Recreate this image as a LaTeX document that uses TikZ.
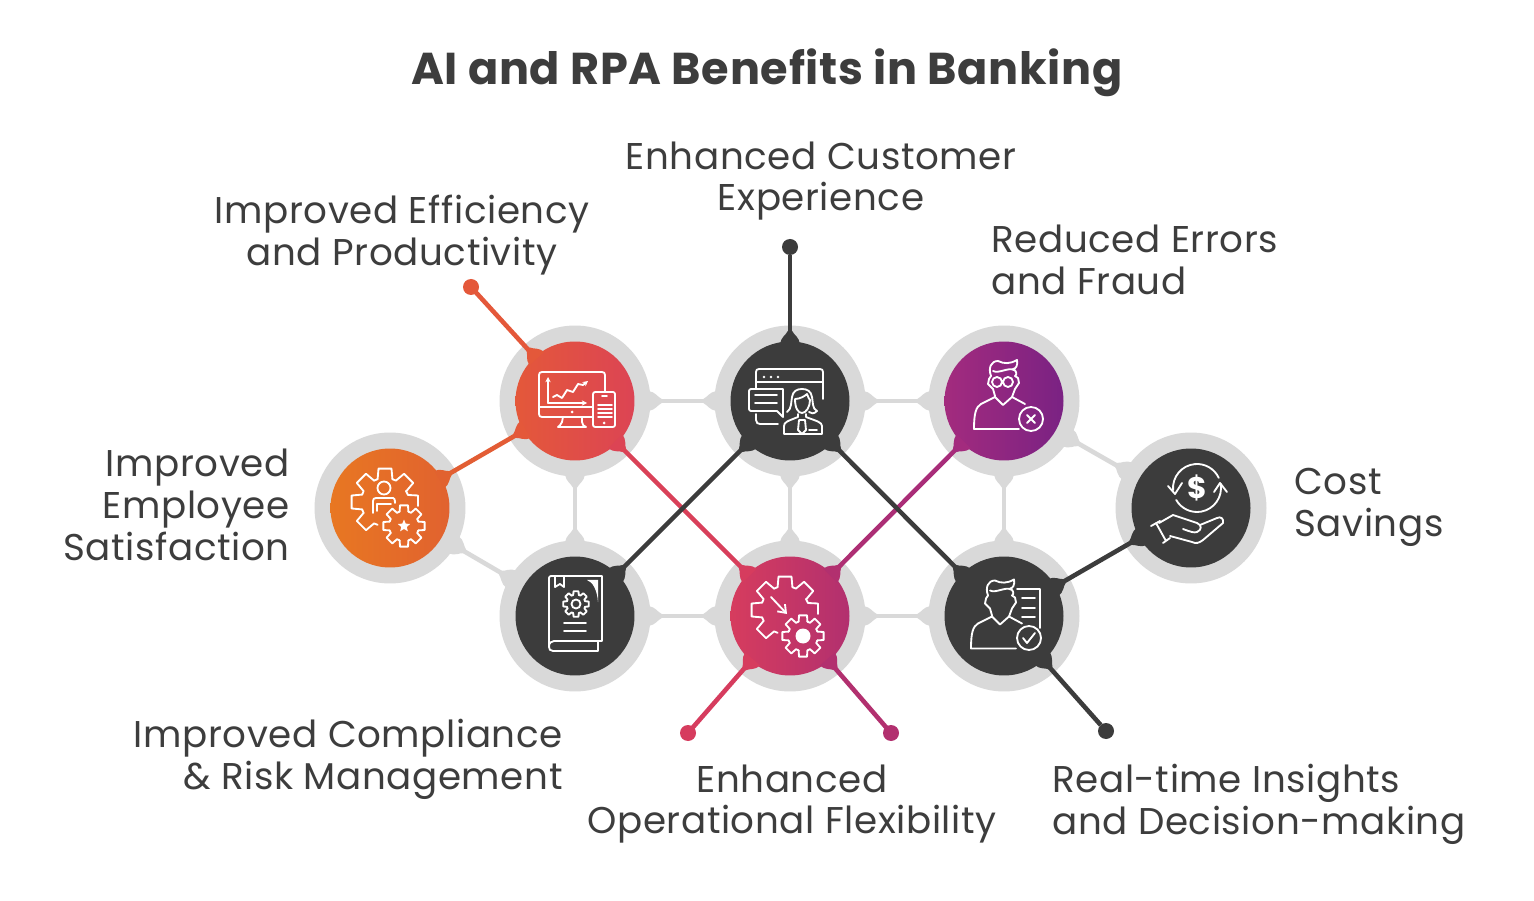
\documentclass[tikz,border=0pt]{standalone}
\usepackage{fontspec}
\setmainfont[LetterSpace=1.6]{Poppins}
\usetikzlibrary{calc, positioning, shapes.geometric, arrows.meta}

\definecolor{ringgrey}{HTML}{D9D9D9}
\definecolor{darkdisc}{HTML}{3C3C3C}
\definecolor{labeltext}{HTML}{3D3D3D}
\definecolor{orangeleft}{HTML}{E87722}
\definecolor{orangeright}{HTML}{E1622F}
\definecolor{redleft}{HTML}{E4583A}
\definecolor{redright}{HTML}{DC4454}
\definecolor{pinkleft}{HTML}{D63C5E}
\definecolor{pinkright}{HTML}{B2306F}
\definecolor{purpleleft}{HTML}{A32B7E}
\definecolor{purpleright}{HTML}{7A2283}

\tikzset{
    ring/.style={circle, fill=ringgrey, minimum size=3.02cm, inner sep=0pt, outer sep=0pt},
    disc/.style={circle, minimum size=2.38cm, inner sep=0pt, outer sep=0pt},
    enddot/.style={circle, minimum size=0.32cm, inner sep=0pt, outer sep=0pt},
    greylink/.style={draw=ringgrey, line width=2.6pt},
    darklink/.style={draw=darkdisc, line width=2.6pt},
    icon/.style={draw=white, line width=1.05pt, line join=round, line cap=round},
    blurb/.style={text=labeltext, inner sep=0pt, font=\fontsize{21.2}{23.8}\selectfont},
}

% coloured connector, left end first
\newcommand{\shadelink}[4]{
    \shade[left color=#3, right color=#4] ($(#1)!1.3pt!90:(#2)$) -- ($(#1)!1.3pt!-90:(#2)$) -- ($(#2)!1.3pt!90:(#1)$) -- ($(#2)!1.3pt!-90:(#1)$) -- cycle;
}
\newcommand{\flare}[4]{
    \fill[#4, shift={(#1)}, rotate=#2] ({#3-2},10) .. controls ({#3+5},9) and ({#3+7},4) .. ({#3+11},2.2) -- ({#3+11},-2.2) .. controls ({#3+7},-4) and ({#3+5},-9) .. ({#3-2},-10) -- cycle;
}
\newcommand{\gearicon}[6]{
    \foreach \a in {#6}
        \draw[icon, shift={#1}] ({\a-45+#5}:#3) -- ({\a-#5}:#3) -- ({\a-#4}:#2) -- ({\a+#4}:#2) -- ({\a+#5}:#3);
}
\newcommand{\bigopengear}{
    \gearicon{(-5,-6)}{34}{24}{11}{18}{135,180,225,270,315}
    \draw[icon] (16,-17) -- (18,-13) -- (28,-12.5) -- (28,-2);
}
\newcommand{\manicon}{
    \draw[icon] (-9,-5) -- (-11,-12) -- (-16,-17) -- (-15,-22) -- (-13,-25) .. controls (-16,-33) and (-13,-40) .. (-6,-40) .. controls (0,-37) and (6,-37) .. (13,-41) .. controls (14,-36) and (12,-32) .. (9,-32) .. controls (13,-30) and (13,-26) .. (11,-25) -- (14,-23) -- (15,-18) -- (11,-12) -- (8,-4) -- (-1,4) -- (-9,-4) -- (-23,3) .. controls (-28,6) and (-30,12) .. (-30,28) -- (15,28);
    \draw[icon] (-11,-30) .. controls (-5,-27) and (4,-34) .. (10,-31);
    \draw[icon] (8,-4) -- (21,3);
}

\begin{document}
\begin{tikzpicture}[x=0.02cm, y=-0.02cm]
    \useasboundingbox (0,0) rectangle (1534,901);
    \fill[white] (0,0) rectangle (1534,901);

    \node[text=labeltext, font=\fontsize{25.4}{30}\selectfont\bfseries] (title) at (767,73) {AI and RPA Benefits in Banking};

    \node[blurb, align=center] (customertext) at (821,181) {Enhanced Customer\\Experience};
    \node[blurb, align=center] (efficiencytext) at (402,235) {Improved Efficiency\\and Productivity};
    \node[blurb, align=left, anchor=west] (errorstext) at (991,260) {Reduced Errors\\and Fraud};
    \node[blurb, align=right, anchor=east] (employeetext) at (290,505) {Improved\\Employee\\Satisfaction};
    \node[blurb, align=left, anchor=west] (savingstext) at (1294,507) {Cost\\Savings};
    \node[blurb, align=right, anchor=east] (compliancetext) at (563,759) {Improved Compliance\\\& Risk Management};
    \node[blurb, align=center] (flexibilitytext) at (792,804) {Enhanced\\Operational Flexibility};
    \node[blurb, align=left, anchor=west] (insightstext) at (1052,804) {Real-time Insights\\and Decision-making};

    \node[ring] (efficiency) at (575,401) {};
    \node[ring] (customer) at (790,401) {};
    \node[ring] (errors) at (1004,401) {};
    \node[ring] (employee) at (390,508) {};
    \node[ring] (savings) at (1191,508) {};
    \node[ring] (compliance) at (575,616) {};
    \node[ring] (flexibility) at (790,616) {};
    \node[ring] (insights) at (1004,616) {};

    \draw[greylink] (efficiency) -- (customer);
    \draw[greylink] (customer) -- (errors);
    \draw[greylink] (compliance) -- (flexibility);
    \draw[greylink] (flexibility) -- (insights);
    \draw[greylink] (efficiency) -- (compliance);
    \draw[greylink] (customer) -- (flexibility);
    \draw[greylink] (errors) -- (insights);
    \draw[greylink] (employee) -- (compliance);
    \draw[greylink] (errors) -- (savings);

    \foreach \n/\a in {efficiency/0, efficiency/-90, customer/180, customer/0, customer/-90, errors/180, errors/-90, errors/-30, employee/-30, savings/150, compliance/90, compliance/0, compliance/150, flexibility/180, flexibility/0, flexibility/90, insights/180, insights/90}
        \flare{\n.center}{\a}{75.5}{ringgrey};

    \node[enddot, fill=redleft] (efficiencydot) at (471,287) {};
    \node[enddot, fill=darkdisc] (customerdot) at (790,247) {};
    \node[enddot, fill=pinkleft] (flexdotleft) at (688,733) {};
    \node[enddot, fill=pinkright] (flexdotright) at (891,733) {};
    \node[enddot, fill=darkdisc] (insightsdot) at (1106,731) {};

    \shadelink{efficiencydot.center}{efficiency.center}{redleft}{redleft}
    \shadelink{employee.center}{efficiency.center}{orangeright}{redleft}
    \shadelink{efficiency.center}{flexibility.center}{redright}{pinkleft}
    \shadelink{flexibility.center}{errors.center}{pinkright}{purpleleft}
    \shadelink{flexdotleft.center}{flexibility.center}{pinkleft}{pinkleft}
    \shadelink{flexibility.center}{flexdotright.center}{pinkright}{pinkright}
    \draw[darklink] (customerdot) -- (customer.center);
    \draw[darklink] (compliance.center) -- (customer.center);
    \draw[darklink] (customer.center) -- (insights.center);
    \draw[darklink] (insights.center) -- (savings.center);
    \draw[darklink] (insights.center) -- (insightsdot);

    \node[disc, left color=redleft, right color=redright] (efficiencydisc) at (efficiency.center) {};
    \node[disc, fill=darkdisc] (customerdisc) at (customer.center) {};
    \node[disc, left color=purpleleft, right color=purpleright] (errorsdisc) at (errors.center) {};
    \node[disc, left color=orangeleft, right color=orangeright] (employeedisc) at (employee.center) {};
    \node[disc, fill=darkdisc] (savingsdisc) at (savings.center) {};
    \node[disc, fill=darkdisc] (compliancedisc) at (compliance.center) {};
    \node[disc, left color=pinkleft, right color=pinkright] (flexibilitydisc) at (flexibility.center) {};
    \node[disc, fill=darkdisc] (insightsdisc) at (insights.center) {};

    \flare{efficiency.center}{132}{59}{redleft};
    \flare{efficiency.center}{210}{59}{redleft};
    \flare{efficiency.center}{-45}{59}{redright};
    \flare{employee.center}{30}{59}{orangeright};
    \flare{customer.center}{90}{59}{darkdisc};
    \flare{customer.center}{225}{59}{darkdisc};
    \flare{customer.center}{-45}{59}{darkdisc};
    \flare{compliance.center}{45}{59}{darkdisc};
    \flare{errors.center}{225}{59}{purpleleft};
    \flare{flexibility.center}{135}{59}{pinkleft};
    \flare{flexibility.center}{45}{59}{pinkright};
    \flare{flexibility.center}{229}{59}{pinkleft};
    \flare{flexibility.center}{-49}{59}{pinkright};
    \flare{insights.center}{135}{59}{darkdisc};
    \flare{insights.center}{30}{59}{darkdisc};
    \flare{insights.center}{-48}{59}{darkdisc};
    \flare{savings.center}{210}{59}{darkdisc};

    \begin{scope}[shift={(efficiency.center)}]
        \draw[icon] (18,16) -- (-33,16) .. controls (-35,16) and (-36,15) .. (-36,13) -- (-36,-26) .. controls (-36,-28) and (-35,-29) .. (-33,-29) -- (27,-29) .. controls (29,-29) and (30,-28) .. (30,-26) -- (30,-9);
        \draw[icon] (-36,6) -- (18,6);
        \draw[icon] (-12,16) -- (-13,21) .. controls (-14,24) and (-16,25) .. (-17,26) -- (11,26) .. controls (9,25) and (7,24) .. (7,21) -- (7,16);
        \draw[icon, -{Stealth[length=3pt, width=3pt]}] (-27,2) -- (-27,-24);
        \draw[icon, -{Stealth[length=3pt, width=3pt]}] (-27,2) -- (12,2);
        \draw[icon, -{Stealth[length=3pt, width=3pt]}] (-22,-4) -- (-18,-6) -- (-13,-3) -- (-8,-11) -- (-2,-9) -- (3,-17) -- (8,-16) -- (13,-20);
        \draw[icon, rounded corners=1.2pt] (18,-9) rectangle (40,26);
        \draw[icon] (27,-5) -- (32,-5) (23,4) -- (37,4) (23,8) -- (37,8) (23,12) -- (37,12) (23,16) -- (37,16);
        \fill[white] (29,22) circle (1.5) (-3,11) circle (1.5);
    \end{scope}

    \begin{scope}[shift={(customer.center)}]
        \draw[icon] (-34,-13) -- (-34,-29) .. controls (-34,-31) and (-33,-32) .. (-31,-32) -- (30,-32) .. controls (32,-32) and (33,-31) .. (33,-29) -- (33,-2);
        \draw[icon] (-34,-19) -- (33,-19);
        \fill[white] (-26,-24) circle (1.4) (-19,-24) circle (1.4) (-12,-24) circle (1.4);
        \draw[icon] (-39,-12) -- (-7,-12) -- (-7,16) -- (-13,10) -- (-39,10) .. controls (-40,10) and (-41,9) .. (-41,8) -- (-41,-10) .. controls (-41,-11) and (-40,-12) .. (-39,-12);
        \draw[icon] (-35,-6) -- (-13,-6) (-35,2) -- (-13,2);
        \draw[icon] (-34,13) -- (-34,19) .. controls (-34,22) and (-32,23) .. (-30,23) -- (-12,23);
        \draw[icon] (-3,11) .. controls (2,8) and (1,0) .. (2,-4) .. controls (3,-10) and (7,-12) .. (12,-12) .. controls (17,-12) and (21,-10) .. (22,-4) .. controls (23,0) and (22,8) .. (27,10) .. controls (24,13) and (21,13) .. (19,11);
        \draw[icon] (5,-2) .. controls (10,-2) and (15,-5) .. (17,-7) .. controls (18,-4) and (19,-2) .. (20,-1) .. controls (20,6) and (16,12) .. (12,12) .. controls (8,12) and (5,7) .. (5,-2);
        \draw[icon] (-6,33) -- (-6,25) .. controls (-6,21) and (-2,20) .. (8,16) -- (8,13) (16,13) -- (16,16) .. controls (26,20) and (32,21) .. (32,25) -- (32,33) -- (-6,33);
        \draw[icon] (9,19) -- (15,19) -- (16,29) -- (12,33) -- (8,29) -- cycle;
        \draw[icon] (19,29) -- (27,29);
    \end{scope}

    \begin{scope}[shift={(errors.center)}]
        \manicon
        \draw[icon] (-7,-19) circle (5) (4,-19) circle (5) (-2,-20) -- (-1,-20);
        \draw[icon] (27,18) circle (12);
        \draw[icon] (23,14) -- (31,22) (31,14) -- (23,22);
    \end{scope}

    \begin{scope}[shift={(employee.center)}]
        \bigopengear
        \gearicon{(14,18)}{21}{15}{11}{17}{0,45,90,135,180,225,270,315}
        \draw[icon] (-6,-20) circle (6.5);
        \draw[icon] (-17,5) -- (-17,-7) .. controls (-17,-9) and (-16,-10) .. (-14,-10) -- (3,-10) .. controls (4,-10) and (5,-9) .. (5,-5);
        \draw[icon] (-13,3) -- (-13,-4) -- (1,-4);
        \node[star, star points=5, star point ratio=2.2, fill=white, inner sep=0pt, minimum size=0.26cm] (employeestar) at (14,18) {};
    \end{scope}

    \begin{scope}[shift={(savings.center)}]
        \draw[icon] (6,-20) ++(175:24) arc[start angle=175, end angle=335, radius=24];
        \draw[icon] (6,-20) ++(-10:24) arc[start angle=-10, end angle=150, radius=24];
        \draw[icon] (-23,-22) -- (-16,-14) -- (-9,-25);
        \draw[icon] (23,-16) -- (29,-25) -- (36,-16);
        \node[text=white, font=\fontsize{17}{17}\selectfont\bfseries, inner sep=0pt] (savingsdollar) at (6,-20) {\$};
        \draw[icon] (-40,18) -- (-31,13) (-28,35) -- (-21,30) (-35,15) -- (-25,33);
        \draw[icon] (-32,15) -- (-18,7) -- (6,15) .. controls (11,17) and (11,22) .. (6,24) .. controls (3,25) and (0,24) .. (-8,21);
        \draw[icon] (9,17) -- (26,10) .. controls (30,8) and (33,11) .. (32,15) -- (12,32) .. controls (8,35) and (5,36) .. (1,34) -- (-21,28);
    \end{scope}

    \begin{scope}[shift={(compliance.center)}]
        \draw[icon] (-26,31) -- (-26,-38) .. controls (-26,-39) and (-25,-40) .. (-24,-40) -- (27,-40) -- (27,25) -- (-21,25) .. controls (-24,25) and (-26,27) .. (-26,31) .. controls (-26,33) and (-25,35) .. (-22,35) -- (23,35) -- (23,25);
        \draw[icon] (-20,-40) -- (-20,-29) -- (-15,-32) -- (-11,-29) -- (-11,-40);
        \fill[white] (12,-36) .. controls (18,-34) and (22,-26) .. (23,-14) -- (23,-36) -- cycle;
        \gearicon{(1,-12)}{13}{9.5}{11}{17}{0,45,90,135,180,225,270,315}
        \draw[icon] (1,-12) circle (4.5);
        \draw[icon] (-11,7) -- (11,7) (-11,15) -- (11,15);
    \end{scope}

    \begin{scope}[shift={(flexibility.center)}]
        \bigopengear
        \gearicon{(13,20)}{21}{15}{11}{17}{0,45,90,135,180,225,270,315}
        \fill[white] (13,20) circle (7.5);
        \draw[icon, -{Straight Barb[length=4pt, width=6pt]}] (-19,-19) -- (-3,-2);
    \end{scope}

    \begin{scope}[shift={(insights.center)}]
        \begin{scope}[shift={(-3,4.5)}]
            \manicon
        \end{scope}
        \draw[icon] (13,-27) -- (36,-27) -- (36,12);
        \draw[icon] (18,-18) -- (31,-18) (18,-8) -- (31,-8) (18,1) -- (31,1);
        \draw[icon] (25,22) circle (12);
        \draw[icon] (19,22) -- (23,27) -- (31,17);
    \end{scope}
\end{tikzpicture}
\end{document}
